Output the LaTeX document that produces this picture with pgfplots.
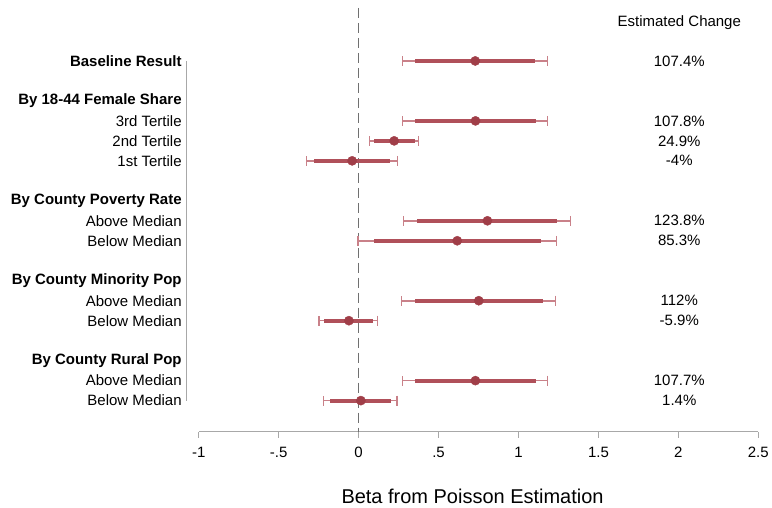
\documentclass[border=0pt]{standalone}
\usepackage{pgfplots}
\pgfplotsset{compat=1.18}
\usepackage{pgfplotstable}
\usepackage{fontspec}
\setmainfont{Liberation Sans}
\definecolor{dotc}{HTML}{A03E48}
\definecolor{thickc}{HTML}{B0505A}
\definecolor{thinc}{HTML}{C98189}
\definecolor{axc}{HTML}{A8A8A8}
\definecolor{zeroc}{HTML}{707070}
\newcommand{\lab}{\fontsize{15}{18}\selectfont}

\pgfplotstableread{
y  b       lo      hi     lo2     hi2    chg
0  0.7295  0.273   1.182  0.350   1.106  107.4
3  0.7310  0.273   1.183  0.350   1.107  107.8
4  0.2223  0.069   0.373  0.094   0.350  24.9
5  -0.0408 -0.329  0.242  -0.281  0.198  -4
8  0.8056  0.281   1.325  0.367   1.242  123.8
9  0.6168  -0.004  1.238  0.094   1.138  85.3
12 0.7514  0.269   1.231  0.350   1.152  112
13 -0.0608 -0.248  0.119  -0.217  0.090  -5.9
16 0.7305  0.273   1.183  0.350   1.107  107.7
17 0.0139  -0.219  0.240  -0.177  0.200  1.4
}\coef

\begin{document}
\begin{tikzpicture}
\begin{axis}[
  x=160pt, y=20pt, y dir=reverse,
  xmin=-1.075, xmax=2.5, ymin=-2.65, ymax=18.55,
  clip=false,
  axis line style={draw=none},
  xtick={-1,-0.5,0,0.5,1,1.5,2,2.5},
  xticklabels={-1,-.5,0,.5,1,1.5,2,2.5},
  xtick pos=bottom, tick align=outside,
  x tick style={axc, line width=0.8pt}, major tick length=6pt,
  xticklabel style={font=\lab, yshift=-6pt},
  ytick={0,2,3,4,5,7,8,9,11,12,13,15,16,17},
  yticklabels={\textbf{Baseline Result},\textbf{By 18-44 Female Share},3rd Tertile,2nd Tertile,1st Tertile,\textbf{By County Poverty Rate},Above Median,Below Median,\textbf{By County Minority Pop},Above Median,Below Median,\textbf{By County Rural Pop},Above Median,Below Median},
  ytick pos=left,
  y tick style={draw=none},
  yticklabel style={font=\lab, anchor=east, inner sep=0pt, xshift=1pt},
  xlabel={Beta from Poisson Estimation},
  xlabel style={font=\fontsize{20}{24}\selectfont, yshift=-24pt},
]
% bounding box
\path (axis cs:-2.24375,-3.05) rectangle (axis cs:2.58125,22.35);
% axis lines
\draw[axc, line width=0.8pt] (axis cs:-1.075,0) -- (axis cs:-1.075,17);
\draw[axc, line width=0.8pt] (axis cs:-1,18.55) -- (axis cs:2.5,18.55);
% zero line
\addplot[zeroc, line width=0.9pt, dash pattern=on 10pt off 5pt] coordinates {(0,-2.65) (0,18.55)};
% wide CI with caps
\addplot[thinc, only marks, mark=none,
  error bars/.cd, x dir=both, x explicit, error mark=|,
  error bar style={line width=1.6pt},
  error mark options={thinc, mark size=5pt, line width=1.1pt}]
  table[x=b, y=y, x error plus expr=\thisrow{hi}-\thisrow{b}, x error minus expr=\thisrow{b}-\thisrow{lo}] {\coef};
% narrow CI
\addplot[thickc, only marks, mark=none,
  error bars/.cd, x dir=both, x explicit, error mark=none,
  error bar style={line width=3.8pt}]
  table[x=b, y=y, x error plus expr=\thisrow{hi2}-\thisrow{b}, x error minus expr=\thisrow{b}-\thisrow{lo2}] {\coef};
% points
\addplot[only marks, mark=*, mark size=4.6pt, mark options={fill=dotc, draw=dotc}] table[x=b, y=y] {\coef};
% estimated change column
\addplot[only marks, mark=none, nodes near coords={\pgfplotspointmeta\%}, point meta=explicit symbolic,
  every node near coord/.append style={anchor=center, font=\lab, text=black}]
  table[x expr=2.006, y=y, meta=chg] {\coef};
\node[font=\lab] at (axis cs:2.006,-1.9) {Estimated Change};
\end{axis}
\end{tikzpicture}
\end{document}
